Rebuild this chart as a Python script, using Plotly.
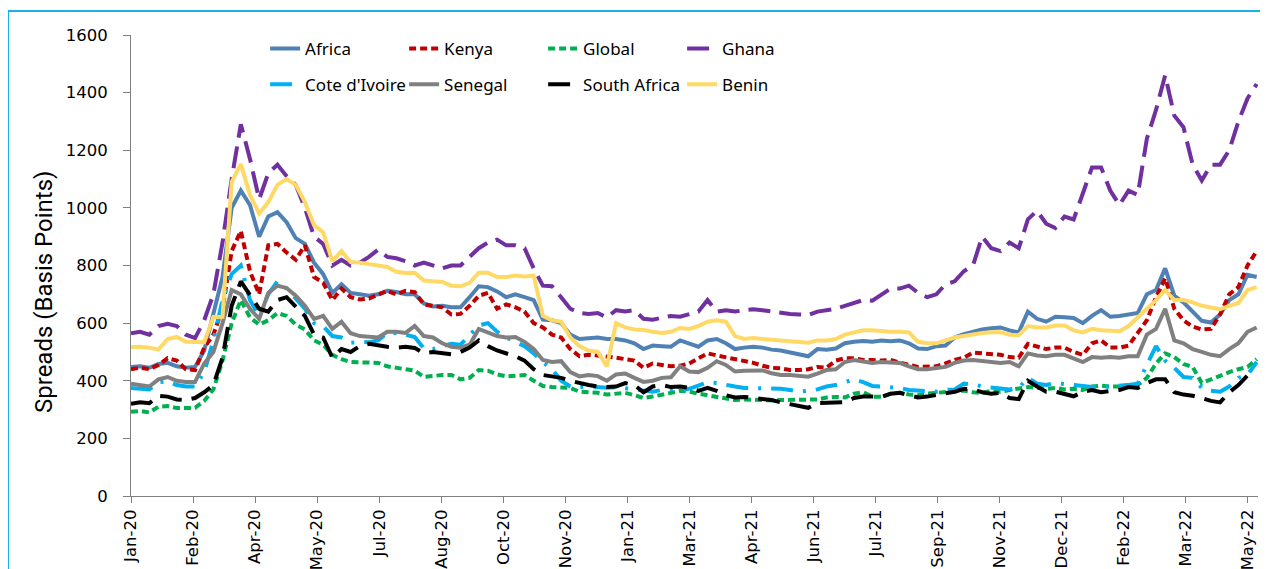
import pandas as pd
import plotly.graph_objects as go

# weekly readings, Jan 2020 - May 2022
dates = pd.date_range("2020-01-01", periods=124, freq="7D")

tick_labels = ["Jan-20", "Feb-20", "Apr-20", "May-20", "Jul-20", "Aug-20", "Oct-20",
               "Nov-20", "Jan-21", "Mar-21", "Apr-21", "Jun-21", "Jul-21", "Sep-21",
               "Nov-21", "Dec-21", "Feb-22", "Mar-22", "May-22"]

africa = [448, 450, 445, 458, 462, 450, 445, 448, 505, 640, 760, 1000, 1060, 1010, 900, 970,
          985, 950, 895, 875, 810, 770, 705, 735, 705, 700, 695, 700, 712, 708, 700, 700,
          668, 658, 660, 655, 655, 690, 728, 725, 710, 690, 700, 690, 680, 612, 610, 600,
          560, 545, 548, 550, 545, 545, 540, 530, 510, 522, 520, 518, 540, 530, 518, 540,
          545, 530, 510, 515, 518, 515, 508, 505, 498, 492, 485, 510, 508, 512, 530, 535,
          538, 535, 540, 537, 540, 530, 512, 510, 520, 522, 550, 562, 570, 578, 582, 585,
          575, 568, 640, 615, 605, 622, 620, 618, 600, 625, 645, 622, 625, 630, 635, 700,
          715, 790, 695, 672, 640, 608, 602, 630, 680, 700, 768, 760]

kenya = [440, 445, 440, 455, 478, 470, 440, 437, 515, 560, 650, 850, 920, 780, 700, 870,
         875, 845, 820, 870, 760, 740, 680, 720, 690, 682, 685, 700, 712, 700, 712, 708,
         665, 660, 655, 630, 632, 660, 695, 705, 650, 665, 655, 640, 600, 585, 560, 550,
         510, 485, 490, 488, 485, 480, 475, 470, 445, 460, 455, 450, 452, 460, 478, 495,
         488, 482, 475, 470, 462, 452, 445, 443, 437, 437, 440, 448, 445, 470, 478, 478,
         472, 472, 470, 472, 462, 455, 448, 448, 450, 460, 472, 480, 498, 495, 493, 490,
         482, 480, 528, 518, 510, 515, 515, 500, 490, 530, 540, 515, 515, 522, 565, 610,
         690, 755, 650, 610, 588, 578, 580, 630, 700, 725, 800, 850]

global_ = [292, 295, 290, 310, 312, 305, 305, 306, 330, 370, 470, 600, 680, 620, 595, 610,
           635, 625, 595, 578, 540, 525, 490, 475, 465, 465, 463, 462, 450, 445, 438, 435,
           413, 418, 420, 420, 405, 410, 437, 435, 422, 415, 418, 420, 400, 382, 378, 376,
           375, 362, 360, 358, 352, 356, 358, 350, 340, 345, 350, 358, 365, 362, 355, 350,
           345, 340, 333, 335, 333, 333, 332, 333, 334, 333, 333, 335, 342, 344, 342, 355,
           360, 345, 344, 355, 358, 352, 350, 356, 358, 360, 362, 366, 360, 358, 365, 362,
           368, 372, 378, 376, 372, 375, 370, 372, 368, 380, 383, 380, 380, 385, 385, 410,
           460, 495, 482, 458, 448, 392, 405, 418, 430, 440, 448, 475]

ghana = [565, 570, 560, 590, 598, 590, 560, 548, 610, 700, 880, 1100, 1290, 1170, 1030, 1120,
         1150, 1110, 1080, 1000, 900, 875, 800, 820, 800, 810, 830, 855, 830, 825, 815, 800,
         810, 800, 790, 800, 800, 830, 860, 880, 890, 870, 870, 860, 790, 730, 728, 690,
         650, 635, 632, 635, 620, 645, 640, 645, 615, 612, 620, 625, 622, 630, 640, 680,
         640, 645, 640, 645, 648, 645, 640, 635, 632, 630, 628, 640, 645, 650, 660, 670,
         680, 678, 700, 720, 720, 730, 705, 690, 700, 735, 745, 780, 800, 900, 860, 850,
         880, 860, 960, 990, 945, 930, 970, 960, 1050, 1140, 1140, 1060, 1010, 1060, 1045, 1240,
         1340, 1460, 1320, 1280, 1150, 1095, 1150, 1150, 1200, 1300, 1380, 1430]

cote_divoire = [375, 372, 370, 395, 398, 385, 380, 380, 430, 540, 680, 770, 800, 680, 625, 700,
                745, 720, 685, 650, 600, 590, 555, 550, 532, 535, 534, 540, 566, 566, 560, 552,
                512, 510, 520, 528, 525, 560, 592, 600, 570, 550, 535, 520, 495, 465, 440, 400,
                380, 378, 380, 378, 376, 378, 374, 370, 365, 362, 368, 368, 370, 372, 385, 395,
                392, 385, 380, 375, 375, 375, 374, 372, 368, 362, 365, 370, 380, 385, 395, 405,
                395, 382, 380, 378, 375, 368, 365, 362, 362, 368, 370, 390, 388, 380, 376, 375,
                370, 375, 410, 390, 385, 392, 388, 385, 382, 378, 378, 380, 382, 385, 390, 455,
                520, 470, 445, 413, 410, 375, 365, 362, 380, 410, 420, 465]

senegal = [390, 385, 380, 405, 413, 400, 396, 396, 460, 500, 600, 715, 700, 650, 615, 705,
           730, 722, 695, 660, 615, 625, 580, 605, 565, 555, 552, 550, 570, 570, 566, 590,
           555, 550, 530, 518, 515, 525, 580, 568, 555, 550, 552, 535, 510, 472, 465, 468,
           430, 415, 420, 416, 400, 422, 425, 410, 396, 400, 410, 412, 450, 432, 430, 445,
           468, 455, 432, 435, 437, 436, 426, 420, 420, 416, 414, 425, 437, 440, 465, 472,
           468, 462, 465, 463, 462, 450, 440, 440, 445, 448, 462, 470, 472, 468, 465, 462,
           465, 450, 495, 488, 485, 490, 490, 478, 465, 482, 480, 482, 480, 485, 485, 560,
           580, 650, 540, 530, 510, 500, 490, 485, 510, 530, 570, 585]

south_africa = [320, 325, 322, 348, 345, 335, 333, 340, 360, 385, 480, 660, 745, 700, 650, 640,
                680, 690, 655, 625, 560, 550, 480, 510, 500, 520, 528, 522, 518, 515, 518, 514,
                495, 500, 495, 492, 500, 515, 540, 520, 505, 495, 485, 470, 440, 420, 415, 410,
                400, 392, 385, 380, 378, 380, 392, 385, 360, 380, 385, 378, 380, 375, 365, 375,
                365, 350, 342, 344, 340, 335, 333, 325, 318, 312, 306, 322, 323, 325, 326, 340,
                345, 345, 344, 355, 358, 350, 342, 345, 350, 358, 362, 372, 370, 360, 355, 358,
                340, 336, 400, 380, 362, 362, 355, 346, 362, 368, 360, 365, 368, 378, 375, 392,
                405, 405, 360, 352, 348, 340, 330, 325, 360, 385, 418, 412]

benin = [517, 518, 515, 508, 545, 552, 535, 534, 534, 621, 622, 1090, 1152, 1045, 980, 1020,
         1080, 1100, 1080, 1020, 940, 915, 815, 850, 812, 810, 805, 800, 795, 778, 774, 775,
         748, 745, 743, 730, 728, 740, 775, 775, 760, 760, 765, 762, 765, 625, 610, 605,
         550, 520, 505, 500, 450, 600, 585, 578, 576, 570, 566, 570, 583, 580, 590, 605,
         610, 605, 555, 545, 548, 545, 542, 540, 537, 535, 532, 540, 540, 545, 560, 568,
         575, 575, 572, 570, 570, 568, 535, 530, 530, 540, 550, 555, 562, 566, 568, 568,
         560, 558, 590, 585, 585, 592, 592, 575, 568, 580, 575, 575, 572, 590, 620, 650,
         680, 715, 680, 680, 672, 660, 655, 648, 660, 670, 715, 725]

series = [
    ("Africa", africa, "#4F81B4", "solid", "legend"),
    ("Kenya", kenya, "#C00000", "7px,4px", "legend"),
    ("Global", global_, "#00B050", "7px,4px", "legend"),
    ("Ghana", ghana, "#7030A0", "22px,9px", "legend"),
    ("Cote d'Ivoire", cote_divoire, "#00B0F0", "22px,10px,3px,10px", "legend2"),
    ("Senegal", senegal, "#808080", "solid", "legend2"),
    ("South Africa", south_africa, "#000000", "22px,10px", "legend2"),
    ("Benin", benin, "#FFD966", "solid", "legend2"),
]

fig = go.Figure()
for name, vals, color, dash, leg in series:
    fig.add_trace(go.Scatter(x=dates, y=vals, name=name, mode="lines",
                             line=dict(color=color, width=4, dash=dash),
                             legend=leg))

start = dates[0]
tickvals = [start + pd.Timedelta(days=47.45 * k) for k in range(len(tick_labels))]

fig.update_xaxes(
    range=[start, start + pd.Timedelta(days=862)],
    tickvals=tickvals, ticktext=tick_labels, tickangle=-90,
    showline=True, linecolor="#7F7F7F", linewidth=1,
    ticks="outside", ticklen=6, tickcolor="#7F7F7F",
    showgrid=False, zeroline=False, automargin=False,
    tickfont=dict(family="DejaVu Sans", size=16.5, color="#000000"),
)
fig.update_yaxes(
    range=[0, 1600], dtick=200,
    showline=True, linecolor="#7F7F7F", linewidth=1,
    ticks="outside", ticklen=7, tickcolor="#7F7F7F", ticklabelstandoff=12,
    showgrid=False, zeroline=False, automargin=False,
    tickfont=dict(family="DejaVu Sans", size=16.5, color="#000000"),
)

# the page body has an 8px margin, so the figure is 8px smaller and shifted
legend_style = dict(orientation="h", xanchor="left", yanchor="middle",
                    bgcolor="rgba(0,0,0,0)", entrywidth=94, entrywidthmode="pixels",
                    font=dict(family="Noto Sans", size=17, color="#000000"),
                    tracegroupgap=0)
fig.update_layout(
    width=1260, height=561,
    margin=dict(l=123, r=10, t=27, b=73),
    plot_bgcolor="white", paper_bgcolor="white",
    legend=dict(x=0.119, y=0.970, **legend_style),
    legend2=dict(x=0.119, y=0.892, **legend_style),
    annotations=[dict(text="Spreads (Basis Points)", textangle=-90,
                      xref="paper", yref="paper", x=-0.0772, y=0.4425,
                      xanchor="center", yanchor="middle", showarrow=False,
                      font=dict(family="Roboto", size=24, color="#000000"))],
    shapes=[dict(type="rect", xref="paper", yref="paper",
                 x0=-0.1091, x1=1.006, y0=-0.2, y1=1.052,
                 line=dict(color="#1CB0E8", width=2), layer="below")],
)

fig.write_html("out.html")
